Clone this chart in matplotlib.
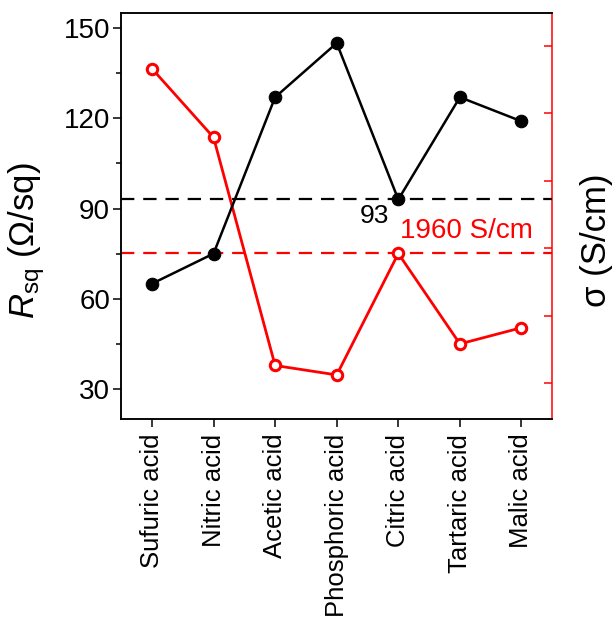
import matplotlib.pyplot as plt
from matplotlib.ticker import MultipleLocator

plt.rcParams['font.family'] = ['Liberation Sans', 'DejaVu Sans']
plt.rcParams['mathtext.fontset'] = 'custom'
plt.rcParams['mathtext.rm'] = 'Liberation Sans'
plt.rcParams['mathtext.it'] = 'Liberation Sans:italic'

# Data
acids = ['Sufuric acid', 'Nitric acid', 'Acetic acid', 'Phosphoric acid',
         'Citric acid', 'Tartaric acid', 'Malic acid']
r_sq = [65, 75, 127, 145, 93, 127, 119]              # Ohm/sq
sigma = [3330, 2820, 1130, 1060, 1960, 1290, 1410]    # S/cm
r_ref = 93
sigma_ref = 1960

x = list(range(len(acids)))

fig = plt.figure(figsize=(6.15, 6.19), dpi=100)
ax = fig.add_axes([0.197, 0.323, 0.701, 0.656])
ax2 = ax.twinx()
ax.set_zorder(ax2.get_zorder() + 1)
ax.patch.set_visible(False)

# black: sheet resistance
ax.axhline(r_ref, color='black', ls=(0, (6, 4)), lw=1.6)
ax.plot(x, r_sq, color='black', lw=1.8, marker='o', ms=9,
        mfc='black', mec='black', mew=0.8)
ax.text(3.61, r_ref - 1.5, '93', color='black', fontsize=19, ha='center', va='top')

# red: conductivity
ax2.axhline(sigma_ref, color='red', ls=(0, (6, 4)), lw=1.6)
ax2.plot(x, sigma, color='red', lw=2, marker='o', ms=7.5,
         mfc='white', mec='red', mew=2.2)
ax2.text(4.03, sigma_ref + 70, '1960 S/cm', color='red', fontsize=20,
         ha='left', va='bottom')

ax.set_xlim(-0.5, 6.5)
ax.set_ylim(20, 155)
ax2.set_ylim(733, 3742)

ax.set_xticks(x)
ax.set_xticklabels(acids, rotation=90, fontsize=18.5)
ax.yaxis.set_major_locator(MultipleLocator(30))
ax.yaxis.set_minor_locator(MultipleLocator(15))
ax.tick_params(axis='y', which='major', labelsize=20, length=6, width=1.1,
               direction='out', pad=2)
ax.tick_params(axis='y', which='minor', length=3.5, width=1.1, direction='out')
ax.tick_params(axis='x', length=5.5, width=1.1, direction='out', pad=5)

ax2.yaxis.set_major_locator(MultipleLocator(500))
ax2.tick_params(axis='y', which='major', length=6, width=1.1, direction='in',
                colors='red', labelright=False)

for s in ['left', 'bottom', 'top']:
    ax.spines[s].set_linewidth(1.1)
    ax2.spines[s].set_linewidth(1.1)
ax2.spines['right'].set_color('red')
ax2.spines['right'].set_linewidth(1.1)
ax.spines['right'].set_visible(False)

ax.set_ylabel(r'$R_{\mathrm{sq}}$ (Ω/sq)', fontsize=25)
ax.yaxis.set_label_coords(-0.172, 0.44)
ax2.set_ylabel('σ (S/cm)', fontsize=25)
ax2.yaxis.set_label_coords(1.065, 0.44)

fig.savefig('out.png', dpi=100)
